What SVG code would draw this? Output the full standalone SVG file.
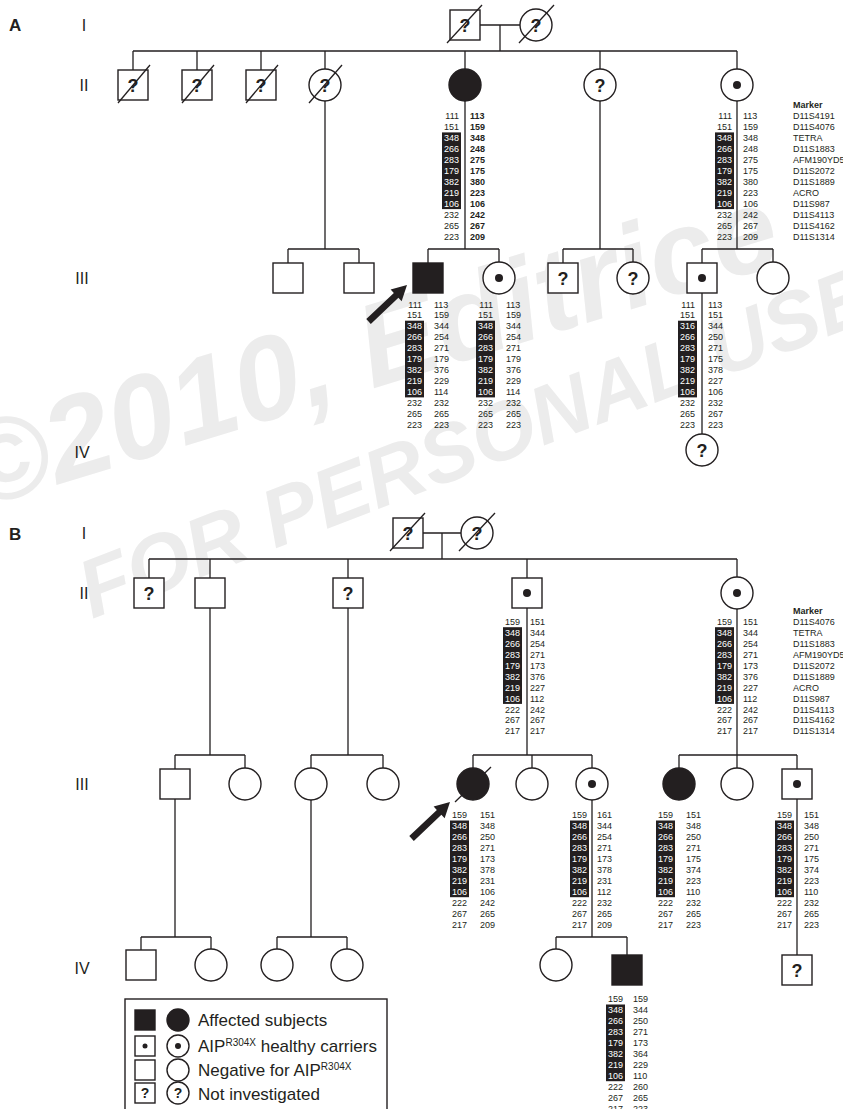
<svg xmlns="http://www.w3.org/2000/svg" width="843" height="1109" viewBox="0 0 843 1109">
<style>
.ln{stroke:#231f20;stroke-width:1.3;fill:none}
.sym{fill:#fff;stroke:#231f20;stroke-width:1.4}
.aff{fill:#231f20;stroke:#231f20;stroke-width:1.4}
.dot{fill:#231f20}
.q{font-family:"Liberation Sans",Arial,sans-serif;font-weight:bold;font-size:18px;text-anchor:middle;fill:#231f20}
.ql{font-family:"Liberation Sans",Arial,sans-serif;font-weight:bold;font-size:14px;text-anchor:middle;fill:#231f20}
.lab{font-family:"Liberation Sans",Arial,sans-serif;font-size:16px;fill:#231f20;text-anchor:middle}
.pan{font-family:"Liberation Sans",Arial,sans-serif;font-size:17px;font-weight:bold;fill:#231f20}
.h{font-family:"Liberation Sans",Arial,sans-serif;font-size:9px;fill:#231f20}
.e{text-anchor:end}
.w{fill:#fff}
.b{font-weight:bold}
.box{fill:#231f20}
.leg{font-family:"Liberation Sans",Arial,sans-serif;font-size:17px;fill:#231f20}
.wm{font-family:"Liberation Sans",Arial,sans-serif;font-weight:bold;font-style:italic;fill:#ececec}
.slash{stroke:#231f20;stroke-width:1.3}
</style>
<defs>
<polygon id="arrow" points="0,0 -15,-8 -15,-3.3 -53,-3.3 -53,3.3 -15,3.3 -15,8" fill="#231f20"/>
</defs>
<rect width="843" height="1109" fill="#fff"/>
<g id="watermark">
<text class="wm" x="-25" y="510" font-size="118" transform="rotate(-17 -25 510)">©2010, Editrice</text>
<text class="wm" x="92" y="619" font-size="82" transform="rotate(-21 92 619)">FOR PERSONAL USE</text>
</g>
<g id="labels">
<text class="pan" x="9" y="31">A</text>
<text class="lab" x="84" y="31">I</text>
<text class="lab" x="84" y="91">II</text>
<text class="lab" x="82" y="284">III</text>
<text class="lab" x="82" y="458">IV</text>
<text class="pan" x="9" y="540">B</text>
<text class="lab" x="84" y="539">I</text>
<text class="lab" x="84" y="599">II</text>
<text class="lab" x="82" y="790">III</text>
<text class="lab" x="82" y="974">IV</text>
</g>
<g id="connectors" class="ln">
<path d="M480 25H520M500 25V51M133 51H737M133 51V70M197 51V70M261 51V70M325 51V69M465 51V69M600 51V69M737 51V69"/>
<path d="M325 101V249M288 249H359M288 249V263M359 249V263"/>
<path d="M465 101V249M428 249H499M428 249V263M499 249V262"/>
<path d="M600 101V249M563 249H633M563 249V263M633 249V262"/>
<path d="M737 101V249M702 249H773M702 249V263M773 249V262M702 293V434"/>
<path d="M423 533H461M442 533V559M149 559H737M149 559V578M210 559V578M348 559V578M527 559V578M737 559V577"/>
<path d="M210 608V755M175 755H245M175 755V769M245 755V768"/>
<path d="M348 608V755M311 755H383M311 755V768M383 755V768"/>
<path d="M527 608V755M473 755H592M473 755V768M532 755V768M592 755V768"/>
<path d="M737 609V755M679 755H797M679 755V768M737 755V768M797 755V769"/>
<path d="M175 799V937M141 937H211M141 937V950M211 937V949"/>
<path d="M311 800V937M277 937H347M277 937V949M347 937V949"/>
<path d="M592 800V937M556 937H627M556 937V949M627 937V955"/>
<path d="M797 799V955"/>
</g>
<!-- Pedigree A -->
<g id="A-I-1"><rect class="sym" x="450" y="10" width="30" height="30"/><text class="q" x="465" y="31.5">?</text><line class="slash" x1="447" y1="43" x2="482" y2="5"/></g>
<g id="A-I-2"><circle class="sym" cx="536" cy="25" r="16"/><text class="q" x="536" y="31.5">?</text><line class="slash" x1="519" y1="43" x2="554" y2="5"/></g>
<g id="A-II-1"><rect class="sym" x="118" y="70" width="30" height="30"/><text class="q" x="133" y="91.5">?</text><line class="slash" x1="118" y1="103" x2="150" y2="65"/></g>
<g id="A-II-2"><rect class="sym" x="182" y="70" width="30" height="30"/><text class="q" x="197" y="91.5">?</text><line class="slash" x1="182" y1="103" x2="214" y2="65"/></g>
<g id="A-II-3"><rect class="sym" x="246" y="70" width="30" height="30"/><text class="q" x="261" y="91.5">?</text><line class="slash" x1="246" y1="103" x2="278" y2="65"/></g>
<g id="A-II-4"><circle class="sym" cx="325" cy="85" r="16"/><text class="q" x="325" y="91.5">?</text><line class="slash" x1="309" y1="103" x2="342" y2="65"/></g>
<g id="A-II-5"><circle class="aff" cx="465" cy="85" r="16"/></g>
<g id="A-II-6"><circle class="sym" cx="600" cy="85" r="16"/><text class="q" x="600" y="91.5">?</text></g>
<g id="A-II-7"><circle class="sym" cx="737" cy="85" r="16"/><circle class="dot" cx="737" cy="85" r="4"/></g>
<g id="A-III-1"><rect class="sym" x="273" y="263" width="30" height="30"/></g>
<g id="A-III-2"><rect class="sym" x="344" y="263" width="30" height="30"/></g>
<g id="A-III-3"><rect class="aff" x="413" y="263" width="30" height="30"/><use href="#arrow" transform="translate(407 285) rotate(-43.5)"/></g>
<g id="A-III-4"><circle class="sym" cx="499" cy="278" r="16"/><circle class="dot" cx="499" cy="278" r="4"/></g>
<g id="A-III-5"><rect class="sym" x="548" y="263" width="30" height="30"/><text class="q" x="563" y="284.5">?</text></g>
<g id="A-III-6"><circle class="sym" cx="633" cy="278" r="16"/><text class="q" x="633" y="284.5">?</text></g>
<g id="A-III-7"><rect class="sym" x="687" y="263" width="30" height="30"/><circle class="dot" cx="702" cy="278" r="4"/></g>
<g id="A-III-8"><circle class="sym" cx="773" cy="278" r="16"/></g>
<g id="A-IV-1"><circle class="sym" cx="702" cy="450" r="16"/><text class="q" x="702" y="456.5">?</text></g>
<!-- A haplotypes -->
<g id="hap-A-II-5">
<rect class="box" x="442" y="132.4" width="19" height="76.7"/>
<text class="h e" x="459" y="119.2"><tspan x="459">111</tspan><tspan x="459" dy="10.95">151</tspan><tspan x="459" dy="10.95" class="w">348</tspan><tspan x="459" dy="10.95" class="w">266</tspan><tspan x="459" dy="10.95" class="w">283</tspan><tspan x="459" dy="10.95" class="w">179</tspan><tspan x="459" dy="10.95" class="w">382</tspan><tspan x="459" dy="10.95" class="w">219</tspan><tspan x="459" dy="10.95" class="w">106</tspan><tspan x="459" dy="10.95">232</tspan><tspan x="459" dy="10.95">265</tspan><tspan x="459" dy="10.95">223</tspan></text>
<text class="h b" x="470" y="119.2"><tspan x="470">113</tspan><tspan x="470" dy="10.95">159</tspan><tspan x="470" dy="10.95">348</tspan><tspan x="470" dy="10.95">248</tspan><tspan x="470" dy="10.95">275</tspan><tspan x="470" dy="10.95">175</tspan><tspan x="470" dy="10.95">380</tspan><tspan x="470" dy="10.95">223</tspan><tspan x="470" dy="10.95">106</tspan><tspan x="470" dy="10.95">242</tspan><tspan x="470" dy="10.95">267</tspan><tspan x="470" dy="10.95">209</tspan></text>
</g>
<g id="hap-A-II-7">
<rect class="box" x="715" y="132.4" width="19" height="76.7"/>
<text class="h e" x="732" y="119.2"><tspan x="732">111</tspan><tspan x="732" dy="10.95">151</tspan><tspan x="732" dy="10.95" class="w">348</tspan><tspan x="732" dy="10.95" class="w">266</tspan><tspan x="732" dy="10.95" class="w">283</tspan><tspan x="732" dy="10.95" class="w">179</tspan><tspan x="732" dy="10.95" class="w">382</tspan><tspan x="732" dy="10.95" class="w">219</tspan><tspan x="732" dy="10.95" class="w">106</tspan><tspan x="732" dy="10.95">232</tspan><tspan x="732" dy="10.95">265</tspan><tspan x="732" dy="10.95">223</tspan></text>
<text class="h" x="743" y="119.2"><tspan x="743">113</tspan><tspan x="743" dy="10.95">159</tspan><tspan x="743" dy="10.95">348</tspan><tspan x="743" dy="10.95">248</tspan><tspan x="743" dy="10.95">275</tspan><tspan x="743" dy="10.95">175</tspan><tspan x="743" dy="10.95">380</tspan><tspan x="743" dy="10.95">223</tspan><tspan x="743" dy="10.95">106</tspan><tspan x="743" dy="10.95">242</tspan><tspan x="743" dy="10.95">267</tspan><tspan x="743" dy="10.95">209</tspan></text>
<text class="h b" x="793" y="108.25">Marker</text>
<text class="h" x="793" y="119.2"><tspan x="793">D11S4191</tspan><tspan x="793" dy="10.95">D11S4076</tspan><tspan x="793" dy="10.95">TETRA</tspan><tspan x="793" dy="10.95">D11S1883</tspan><tspan x="793" dy="10.95">AFM190YD5</tspan><tspan x="793" dy="10.95">D11S2072</tspan><tspan x="793" dy="10.95">D11S1889</tspan><tspan x="793" dy="10.95">ACRO</tspan><tspan x="793" dy="10.95">D11S987</tspan><tspan x="793" dy="10.95">D11S4113</tspan><tspan x="793" dy="10.95">D11S4162</tspan><tspan x="793" dy="10.95">D11S1314</tspan></text>
</g>
<g id="hap-A-III-3">
<rect class="box" x="405" y="320.7" width="19" height="76.7"/>
<text class="h e" x="422" y="307.5"><tspan x="422">111</tspan><tspan x="422" dy="10.95">151</tspan><tspan x="422" dy="10.95" class="w">348</tspan><tspan x="422" dy="10.95" class="w">266</tspan><tspan x="422" dy="10.95" class="w">283</tspan><tspan x="422" dy="10.95" class="w">179</tspan><tspan x="422" dy="10.95" class="w">382</tspan><tspan x="422" dy="10.95" class="w">219</tspan><tspan x="422" dy="10.95" class="w">106</tspan><tspan x="422" dy="10.95">232</tspan><tspan x="422" dy="10.95">265</tspan><tspan x="422" dy="10.95">223</tspan></text>
<text class="h" x="434" y="307.5"><tspan x="434">113</tspan><tspan x="434" dy="10.95">159</tspan><tspan x="434" dy="10.95">344</tspan><tspan x="434" dy="10.95">254</tspan><tspan x="434" dy="10.95">271</tspan><tspan x="434" dy="10.95">179</tspan><tspan x="434" dy="10.95">376</tspan><tspan x="434" dy="10.95">229</tspan><tspan x="434" dy="10.95">114</tspan><tspan x="434" dy="10.95">232</tspan><tspan x="434" dy="10.95">265</tspan><tspan x="434" dy="10.95">223</tspan></text>
</g>
<g id="hap-A-III-4">
<rect class="box" x="476" y="320.7" width="19" height="76.7"/>
<text class="h e" x="493" y="307.5"><tspan x="493">111</tspan><tspan x="493" dy="10.95">151</tspan><tspan x="493" dy="10.95" class="w">348</tspan><tspan x="493" dy="10.95" class="w">266</tspan><tspan x="493" dy="10.95" class="w">283</tspan><tspan x="493" dy="10.95" class="w">179</tspan><tspan x="493" dy="10.95" class="w">382</tspan><tspan x="493" dy="10.95" class="w">219</tspan><tspan x="493" dy="10.95" class="w">106</tspan><tspan x="493" dy="10.95">232</tspan><tspan x="493" dy="10.95">265</tspan><tspan x="493" dy="10.95">223</tspan></text>
<text class="h" x="506" y="307.5"><tspan x="506">113</tspan><tspan x="506" dy="10.95">159</tspan><tspan x="506" dy="10.95">344</tspan><tspan x="506" dy="10.95">254</tspan><tspan x="506" dy="10.95">271</tspan><tspan x="506" dy="10.95">179</tspan><tspan x="506" dy="10.95">376</tspan><tspan x="506" dy="10.95">229</tspan><tspan x="506" dy="10.95">114</tspan><tspan x="506" dy="10.95">232</tspan><tspan x="506" dy="10.95">265</tspan><tspan x="506" dy="10.95">223</tspan></text>
</g>
<g id="hap-A-III-7">
<rect class="box" x="678" y="320.7" width="19" height="76.7"/>
<text class="h e" x="695" y="307.5"><tspan x="695">111</tspan><tspan x="695" dy="10.95">151</tspan><tspan x="695" dy="10.95" class="w">316</tspan><tspan x="695" dy="10.95" class="w">266</tspan><tspan x="695" dy="10.95" class="w">283</tspan><tspan x="695" dy="10.95" class="w">179</tspan><tspan x="695" dy="10.95" class="w">382</tspan><tspan x="695" dy="10.95" class="w">219</tspan><tspan x="695" dy="10.95" class="w">106</tspan><tspan x="695" dy="10.95">232</tspan><tspan x="695" dy="10.95">265</tspan><tspan x="695" dy="10.95">223</tspan></text>
<text class="h" x="708" y="307.5"><tspan x="708">113</tspan><tspan x="708" dy="10.95">151</tspan><tspan x="708" dy="10.95">344</tspan><tspan x="708" dy="10.95">250</tspan><tspan x="708" dy="10.95">271</tspan><tspan x="708" dy="10.95">175</tspan><tspan x="708" dy="10.95">378</tspan><tspan x="708" dy="10.95">227</tspan><tspan x="708" dy="10.95">106</tspan><tspan x="708" dy="10.95">232</tspan><tspan x="708" dy="10.95">267</tspan><tspan x="708" dy="10.95">223</tspan></text>
</g>
<!-- Pedigree B -->
<g id="B-I-1"><rect class="sym" x="393" y="518" width="30" height="30"/><text class="q" x="408" y="539.5">?</text><line class="slash" x1="390" y1="551" x2="425" y2="513"/></g>
<g id="B-I-2"><circle class="sym" cx="477" cy="533" r="16"/><text class="q" x="477" y="539.5">?</text><line class="slash" x1="459" y1="551" x2="495" y2="513"/></g>
<g id="B-II-1"><rect class="sym" x="134" y="578" width="30" height="30"/><text class="q" x="149" y="599.5">?</text></g>
<g id="B-II-2"><rect class="sym" x="195" y="578" width="30" height="30"/></g>
<g id="B-II-3"><rect class="sym" x="333" y="578" width="30" height="30"/><text class="q" x="348" y="599.5">?</text></g>
<g id="B-II-4"><rect class="sym" x="512" y="578" width="30" height="30"/><circle class="dot" cx="527" cy="593" r="4"/></g>
<g id="B-II-5"><circle class="sym" cx="737" cy="593" r="16"/><circle class="dot" cx="737" cy="593" r="4"/></g>
<g id="B-III-1"><rect class="sym" x="160" y="769" width="30" height="30"/></g>
<g id="B-III-2"><circle class="sym" cx="245" cy="784" r="16"/></g>
<g id="B-III-3"><circle class="sym" cx="311" cy="784" r="16"/></g>
<g id="B-III-4"><circle class="sym" cx="383" cy="784" r="16"/></g>
<g id="B-III-5"><circle class="aff" cx="473" cy="784" r="16"/><line class="slash" x1="455" y1="802" x2="491" y2="767"/><use href="#arrow" transform="translate(450 802) rotate(-43.5)"/></g>
<g id="B-III-6"><circle class="sym" cx="532" cy="784" r="16"/></g>
<g id="B-III-7"><circle class="sym" cx="592" cy="784" r="16"/><circle class="dot" cx="592" cy="784" r="4"/></g>
<g id="B-III-8"><circle class="aff" cx="679" cy="784" r="16"/></g>
<g id="B-III-9"><circle class="sym" cx="737" cy="784" r="16"/></g>
<g id="B-III-10"><rect class="sym" x="782" y="769" width="30" height="30"/><circle class="dot" cx="797" cy="784" r="4"/></g>
<g id="B-IV-1"><rect class="sym" x="126" y="950" width="30" height="30"/></g>
<g id="B-IV-2"><circle class="sym" cx="211" cy="965" r="16"/></g>
<g id="B-IV-3"><circle class="sym" cx="277" cy="965" r="16"/></g>
<g id="B-IV-4"><circle class="sym" cx="347" cy="965" r="16"/></g>
<g id="B-IV-5"><circle class="sym" cx="556" cy="965" r="16"/></g>
<g id="B-IV-6"><rect class="aff" x="612" y="955" width="30" height="30"/></g>
<g id="B-IV-7"><rect class="sym" x="782" y="955" width="30" height="30"/><text class="q" x="797" y="976.5">?</text></g>
<!-- B haplotypes -->
<g id="hap-B-II-4">
<rect class="box" x="503" y="627.2" width="19" height="76.7"/>
<text class="h e" x="520" y="624.9"><tspan x="520">159</tspan><tspan x="520" dy="10.95" class="w">348</tspan><tspan x="520" dy="10.95" class="w">266</tspan><tspan x="520" dy="10.95" class="w">283</tspan><tspan x="520" dy="10.95" class="w">179</tspan><tspan x="520" dy="10.95" class="w">382</tspan><tspan x="520" dy="10.95" class="w">219</tspan><tspan x="520" dy="10.95" class="w">106</tspan><tspan x="520" dy="10.95">222</tspan><tspan x="520" dy="10.95">267</tspan><tspan x="520" dy="10.95">217</tspan></text>
<text class="h" x="530" y="624.9"><tspan x="530">151</tspan><tspan x="530" dy="10.95">344</tspan><tspan x="530" dy="10.95">254</tspan><tspan x="530" dy="10.95">271</tspan><tspan x="530" dy="10.95">173</tspan><tspan x="530" dy="10.95">376</tspan><tspan x="530" dy="10.95">227</tspan><tspan x="530" dy="10.95">112</tspan><tspan x="530" dy="10.95">242</tspan><tspan x="530" dy="10.95">267</tspan><tspan x="530" dy="10.95">217</tspan></text>
</g>
<g id="hap-B-II-5">
<rect class="box" x="715" y="627.2" width="19" height="76.7"/>
<text class="h e" x="732" y="624.9"><tspan x="732">159</tspan><tspan x="732" dy="10.95" class="w">348</tspan><tspan x="732" dy="10.95" class="w">266</tspan><tspan x="732" dy="10.95" class="w">283</tspan><tspan x="732" dy="10.95" class="w">179</tspan><tspan x="732" dy="10.95" class="w">382</tspan><tspan x="732" dy="10.95" class="w">219</tspan><tspan x="732" dy="10.95" class="w">106</tspan><tspan x="732" dy="10.95">222</tspan><tspan x="732" dy="10.95">267</tspan><tspan x="732" dy="10.95">217</tspan></text>
<text class="h" x="743" y="624.9"><tspan x="743">151</tspan><tspan x="743" dy="10.95">344</tspan><tspan x="743" dy="10.95">254</tspan><tspan x="743" dy="10.95">271</tspan><tspan x="743" dy="10.95">173</tspan><tspan x="743" dy="10.95">376</tspan><tspan x="743" dy="10.95">227</tspan><tspan x="743" dy="10.95">112</tspan><tspan x="743" dy="10.95">242</tspan><tspan x="743" dy="10.95">267</tspan><tspan x="743" dy="10.95">217</tspan></text>
<text class="h b" x="793" y="613.95">Marker</text>
<text class="h" x="793" y="624.9"><tspan x="793">D11S4076</tspan><tspan x="793" dy="10.95">TETRA</tspan><tspan x="793" dy="10.95">D11S1883</tspan><tspan x="793" dy="10.95">AFM190YD5</tspan><tspan x="793" dy="10.95">D11S2072</tspan><tspan x="793" dy="10.95">D11S1889</tspan><tspan x="793" dy="10.95">ACRO</tspan><tspan x="793" dy="10.95">D11S987</tspan><tspan x="793" dy="10.95">D11S4113</tspan><tspan x="793" dy="10.95">D11S4162</tspan><tspan x="793" dy="10.95">D11S1314</tspan></text>
</g>
<g id="hap-B-III-5">
<rect class="box" x="450" y="820.5" width="19" height="76.7"/>
<text class="h e" x="467" y="818.2"><tspan x="467">159</tspan><tspan x="467" dy="10.95" class="w">348</tspan><tspan x="467" dy="10.95" class="w">266</tspan><tspan x="467" dy="10.95" class="w">283</tspan><tspan x="467" dy="10.95" class="w">179</tspan><tspan x="467" dy="10.95" class="w">382</tspan><tspan x="467" dy="10.95" class="w">219</tspan><tspan x="467" dy="10.95" class="w">106</tspan><tspan x="467" dy="10.95">222</tspan><tspan x="467" dy="10.95">267</tspan><tspan x="467" dy="10.95">217</tspan></text>
<text class="h" x="480" y="818.2"><tspan x="480">151</tspan><tspan x="480" dy="10.95">348</tspan><tspan x="480" dy="10.95">250</tspan><tspan x="480" dy="10.95">271</tspan><tspan x="480" dy="10.95">173</tspan><tspan x="480" dy="10.95">378</tspan><tspan x="480" dy="10.95">231</tspan><tspan x="480" dy="10.95">106</tspan><tspan x="480" dy="10.95">242</tspan><tspan x="480" dy="10.95">265</tspan><tspan x="480" dy="10.95">209</tspan></text>
</g>
<g id="hap-B-III-7">
<rect class="box" x="570" y="820.5" width="19" height="76.7"/>
<text class="h e" x="587" y="818.2"><tspan x="587">159</tspan><tspan x="587" dy="10.95" class="w">348</tspan><tspan x="587" dy="10.95" class="w">266</tspan><tspan x="587" dy="10.95" class="w">283</tspan><tspan x="587" dy="10.95" class="w">179</tspan><tspan x="587" dy="10.95" class="w">382</tspan><tspan x="587" dy="10.95" class="w">219</tspan><tspan x="587" dy="10.95" class="w">106</tspan><tspan x="587" dy="10.95">222</tspan><tspan x="587" dy="10.95">267</tspan><tspan x="587" dy="10.95">217</tspan></text>
<text class="h" x="597" y="818.2"><tspan x="597">161</tspan><tspan x="597" dy="10.95">344</tspan><tspan x="597" dy="10.95">254</tspan><tspan x="597" dy="10.95">271</tspan><tspan x="597" dy="10.95">173</tspan><tspan x="597" dy="10.95">378</tspan><tspan x="597" dy="10.95">231</tspan><tspan x="597" dy="10.95">112</tspan><tspan x="597" dy="10.95">232</tspan><tspan x="597" dy="10.95">265</tspan><tspan x="597" dy="10.95">209</tspan></text>
</g>
<g id="hap-B-III-8">
<rect class="box" x="656" y="820.5" width="19" height="76.7"/>
<text class="h e" x="673" y="818.2"><tspan x="673">159</tspan><tspan x="673" dy="10.95" class="w">348</tspan><tspan x="673" dy="10.95" class="w">266</tspan><tspan x="673" dy="10.95" class="w">283</tspan><tspan x="673" dy="10.95" class="w">179</tspan><tspan x="673" dy="10.95" class="w">382</tspan><tspan x="673" dy="10.95" class="w">219</tspan><tspan x="673" dy="10.95" class="w">106</tspan><tspan x="673" dy="10.95">222</tspan><tspan x="673" dy="10.95">267</tspan><tspan x="673" dy="10.95">217</tspan></text>
<text class="h" x="686" y="818.2"><tspan x="686">151</tspan><tspan x="686" dy="10.95">348</tspan><tspan x="686" dy="10.95">250</tspan><tspan x="686" dy="10.95">271</tspan><tspan x="686" dy="10.95">175</tspan><tspan x="686" dy="10.95">374</tspan><tspan x="686" dy="10.95">223</tspan><tspan x="686" dy="10.95">110</tspan><tspan x="686" dy="10.95">232</tspan><tspan x="686" dy="10.95">265</tspan><tspan x="686" dy="10.95">223</tspan></text>
</g>
<g id="hap-B-III-10">
<rect class="box" x="775" y="820.5" width="19" height="76.7"/>
<text class="h e" x="792" y="818.2"><tspan x="792">159</tspan><tspan x="792" dy="10.95" class="w">348</tspan><tspan x="792" dy="10.95" class="w">266</tspan><tspan x="792" dy="10.95" class="w">283</tspan><tspan x="792" dy="10.95" class="w">179</tspan><tspan x="792" dy="10.95" class="w">382</tspan><tspan x="792" dy="10.95" class="w">219</tspan><tspan x="792" dy="10.95" class="w">106</tspan><tspan x="792" dy="10.95">222</tspan><tspan x="792" dy="10.95">267</tspan><tspan x="792" dy="10.95">217</tspan></text>
<text class="h" x="804" y="818.2"><tspan x="804">151</tspan><tspan x="804" dy="10.95">348</tspan><tspan x="804" dy="10.95">250</tspan><tspan x="804" dy="10.95">271</tspan><tspan x="804" dy="10.95">175</tspan><tspan x="804" dy="10.95">374</tspan><tspan x="804" dy="10.95">223</tspan><tspan x="804" dy="10.95">110</tspan><tspan x="804" dy="10.95">232</tspan><tspan x="804" dy="10.95">265</tspan><tspan x="804" dy="10.95">223</tspan></text>
</g>
<g id="hap-B-IV-6">
<rect class="box" x="606" y="1004.5" width="19" height="76.7"/>
<text class="h e" x="623" y="1002.2"><tspan x="623">159</tspan><tspan x="623" dy="10.95" class="w">348</tspan><tspan x="623" dy="10.95" class="w">266</tspan><tspan x="623" dy="10.95" class="w">283</tspan><tspan x="623" dy="10.95" class="w">179</tspan><tspan x="623" dy="10.95" class="w">382</tspan><tspan x="623" dy="10.95" class="w">219</tspan><tspan x="623" dy="10.95" class="w">106</tspan><tspan x="623" dy="10.95">222</tspan><tspan x="623" dy="10.95">267</tspan><tspan x="623" dy="10.95">217</tspan></text>
<text class="h" x="633" y="1002.2"><tspan x="633">159</tspan><tspan x="633" dy="10.95">344</tspan><tspan x="633" dy="10.95">250</tspan><tspan x="633" dy="10.95">271</tspan><tspan x="633" dy="10.95">173</tspan><tspan x="633" dy="10.95">364</tspan><tspan x="633" dy="10.95">229</tspan><tspan x="633" dy="10.95">110</tspan><tspan x="633" dy="10.95">260</tspan><tspan x="633" dy="10.95">265</tspan><tspan x="633" dy="10.95">223</tspan></text>
</g>
<!-- Legend -->
<g id="legend">
<rect x="125" y="999" width="262" height="130" fill="#fff" stroke="#231f20" stroke-width="1.4"/>
<rect class="aff" x="135" y="1010" width="20" height="20"/><circle class="aff" cx="178" cy="1020" r="11"/>
<text class="leg" x="198" y="1026">Affected subjects</text>
<rect class="sym" x="135" y="1036" width="20" height="20"/><circle class="dot" cx="145" cy="1046" r="2.5"/><circle class="sym" cx="178" cy="1046" r="11"/><circle class="dot" cx="178" cy="1046" r="3"/>
<text class="leg" x="198" y="1052">AIP<tspan font-size="10" dy="-6">R304X</tspan><tspan dy="6"> healthy carriers</tspan></text>
<rect class="sym" x="135" y="1060" width="20" height="20"/><circle class="sym" cx="178" cy="1070" r="11"/>
<text class="leg" x="198" y="1076">Negative for AIP<tspan font-size="10" dy="-6">R304X</tspan></text>
<rect class="sym" x="135" y="1083" width="20" height="20"/><text class="ql" x="145" y="1098">?</text><circle class="sym" cx="178" cy="1093" r="11"/><text class="ql" x="178" y="1098">?</text>
<text class="leg" x="198" y="1100">Not investigated</text>
</g>
</svg>
